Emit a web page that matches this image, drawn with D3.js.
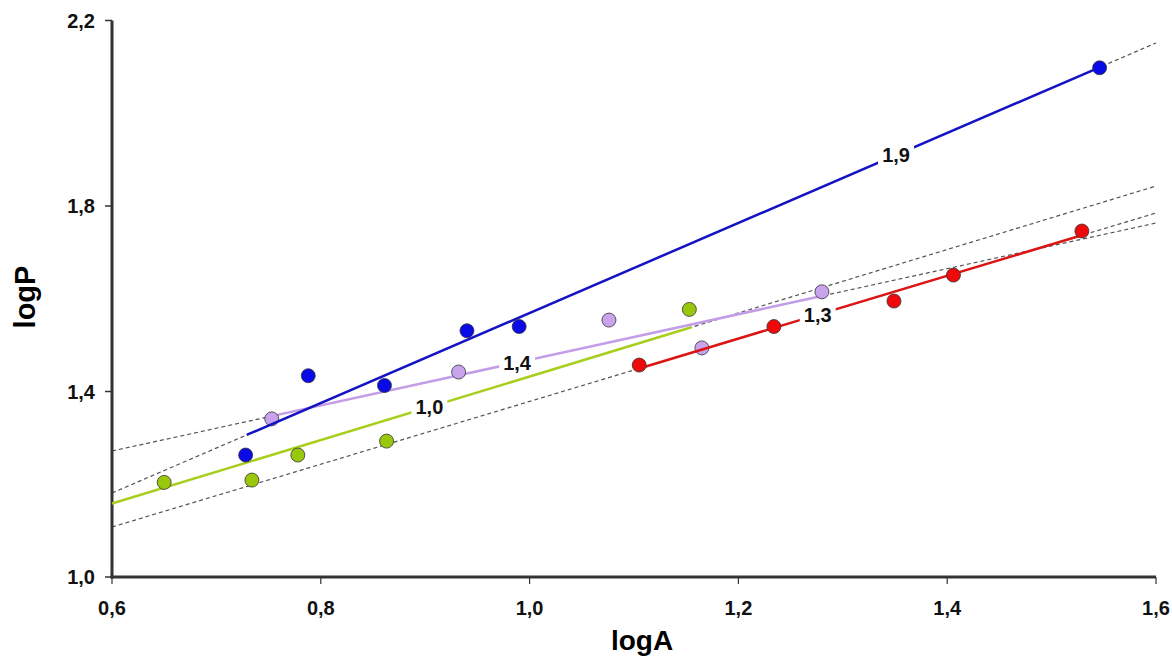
<!DOCTYPE html>
<html>
<head>
<meta charset="utf-8">
<script src="https://cdnjs.cloudflare.com/ajax/libs/d3/7.8.5/d3.min.js"></script>
<style>
  body { margin: 0; background: #fff; }
  text { font-family: Arial, "Liberation Sans", sans-serif; font-weight: bold; }
</style>
</head>
<body>
<svg id="chart" width="1172" height="659"></svg>
<script>
// series names, colours and the label printed on each fit line
var seriesNames = ["purple", "green", "red", "blue"];
var seriesFill = ["#c9a3ee", "#99c70c", "#ee0a0a", "#0a0ae6"];
var seriesLine = ["#c39de8", "#a9cf1e", "#dc1414", "#1414c4"];
var lineLabels = ["1,4", "1,0", "1,3", "1,9"];

// logA values
var xPurple = [0.753, 0.932, 1.076, 1.165, 1.280];
var xGreen  = [0.650, 0.734, 0.778, 0.863, 1.153];
var xRed    = [1.105, 1.234, 1.349, 1.406, 1.529];
var xBlue   = [0.728, 0.788, 0.861, 0.940, 0.990, 1.546];

// logP values
var yPurple = [1.341, 1.442, 1.554, 1.494, 1.615];
var yGreen  = [1.204, 1.209, 1.263, 1.293, 1.577];
var yRed    = [1.457, 1.540, 1.595, 1.651, 1.746];
var yBlue   = [1.263, 1.434, 1.413, 1.531, 1.540, 2.098];

// fitted lines  logP = a + b*logA, solid over [from, to], dashed elsewhere
var fitIntercept = [0.9767, 0.7477, 0.7015, 0.5989];
var fitSlope     = [0.4916, 0.6846, 0.6771, 0.9704];
var solidFrom    = [0.753, 0.600, 1.105, 0.729];
var solidTo      = [1.280, 1.155, 1.529, 1.546];
var labelAt      = [0.988, 0.904, 1.276, 1.351];

var xTicks = [0.6, 0.8, 1.0, 1.2, 1.4, 1.6];
var yTicks = [1.0, 1.4, 1.8, 2.2];

var xs = [xPurple, xGreen, xRed, xBlue];
var ys = [yPurple, yGreen, yRed, yBlue];

var svg = d3.select("#chart");
var x = d3.scaleLinear().domain([0.6, 1.6]).range([112, 1156]);
var y = d3.scaleLinear().domain([1.0, 2.2]).range([577, 20.5]);
var fmt = function(d) { return d3.format(".1f")(d).replace(".", ","); };

var series = seriesNames.map(function(name, i) {
    return {
        name: name,
        fill: seriesFill[i],
        stroke: seriesLine[i],
        label: lineLabels[i],
        a: fitIntercept[i],
        b: fitSlope[i],
        from: solidFrom[i],
        to: solidTo[i],
        labelAt: labelAt[i],
        points: xs[i].map(function(v, j) { return {x: v, y: ys[i][j]}; })
    };
});

function fitY(s, v) { return s.a + s.b * v; }

/* dashed extensions over whole x range */
svg.append("g").attr("class", "dashed")
    .selectAll("line").data(series).enter().append("line")
    .attr("x1", x(0.6)).attr("x2", x(1.6))
    .attr("y1", function(s) { return y(fitY(s, 0.6)); })
    .attr("y2", function(s) { return y(fitY(s, 1.6)); })
    .attr("stroke", "#555")
    .attr("stroke-width", 1.2)
    .attr("stroke-dasharray", "4,3");

/* axes */
var axisG = svg.append("g").attr("class", "axes");
axisG.append("line")
    .attr("x1", x(0.6)).attr("x2", x(0.6))
    .attr("y1", y(2.2)).attr("y2", y(1.0) + 1.5)
    .attr("stroke", "#333").attr("stroke-width", 3);
axisG.append("line")
    .attr("x1", x(0.6) - 1.5).attr("x2", x(1.6))
    .attr("y1", y(1.0)).attr("y2", y(1.0))
    .attr("stroke", "#333").attr("stroke-width", 3);

axisG.selectAll(".ytick").data(yTicks).enter().append("line")
    .attr("x1", x(0.6) - 7).attr("x2", x(0.6))
    .attr("y1", function(d) { return y(d); })
    .attr("y2", function(d) { return y(d); })
    .attr("stroke", "#333").attr("stroke-width", 1.5);
axisG.selectAll(".xtick").data(xTicks).enter().append("line")
    .attr("x1", function(d) { return x(d); })
    .attr("x2", function(d) { return x(d); })
    .attr("y1", y(1.0)).attr("y2", y(1.0) + 7)
    .attr("stroke", "#333").attr("stroke-width", 1.2);

axisG.selectAll(".ylab").data(yTicks).enter().append("text")
    .attr("x", 95)
    .attr("y", function(d) { return y(d) + 7; })
    .attr("text-anchor", "end")
    .attr("font-size", 20)
    .attr("fill", "#111")
    .text(fmt);
axisG.selectAll(".xlab").data(xTicks).enter().append("text")
    .attr("x", function(d) { return x(d); })
    .attr("y", 615)
    .attr("text-anchor", "middle")
    .attr("font-size", 20)
    .attr("fill", "#111")
    .text(fmt);

svg.append("text")
    .attr("transform", "translate(35,297)rotate(-90)")
    .attr("text-anchor", "middle")
    .attr("font-size", 29)
    .attr("fill", "#000")
    .text("logP");
svg.append("text")
    .attr("x", 642).attr("y", 650)
    .attr("text-anchor", "middle")
    .attr("font-size", 28)
    .attr("fill", "#000")
    .text("logA");

/* solid fit lines with their points */
var sG = svg.append("g").attr("class", "series")
    .selectAll("g").data(series).enter().append("g");

sG.append("line")
    .attr("x1", function(s) { return x(s.from); })
    .attr("x2", function(s) { return x(s.to); })
    .attr("y1", function(s) { return y(fitY(s, s.from)); })
    .attr("y2", function(s) { return y(fitY(s, s.to)); })
    .attr("stroke", function(s) { return s.stroke; })
    .attr("stroke-width", 2.5);

sG.selectAll("circle").data(function(s) { return s.points.map(function(p) { return {p: p, s: s}; }); })
    .enter().append("circle")
    .attr("cx", function(d) { return x(d.p.x); })
    .attr("cy", function(d) { return y(d.p.y); })
    .attr("r", 7)
    .attr("fill", function(d) { return d.s.fill; })
    .attr("stroke", "#333")
    .attr("stroke-width", 0.8);

/* line labels sit on the fit line with a white patch behind */
var lab = svg.append("g").attr("class", "labels")
    .selectAll("g").data(series).enter().append("g")
    .attr("transform", function(s) {
        return "translate(" + x(s.labelAt) + "," + y(fitY(s, s.labelAt)) + ")";
    });
lab.append("rect")
    .attr("x", -18).attr("y", -12).attr("width", 36).attr("height", 22)
    .attr("fill", "#fff");
lab.append("text")
    .attr("text-anchor", "middle")
    .attr("y", 7)
    .attr("font-size", 20)
    .attr("fill", "#111")
    .text(function(s) { return s.label; });
</script>
</body>
</html>
